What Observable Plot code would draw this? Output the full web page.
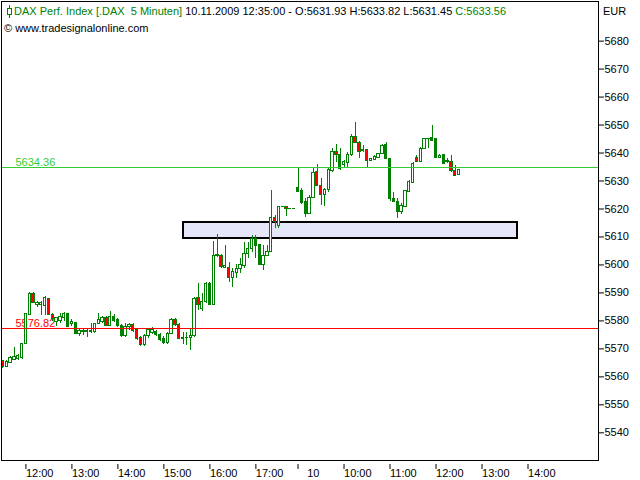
<!DOCTYPE html>
<html><head><meta charset="utf-8">
<script src="https://cdn.jsdelivr.net/npm/d3@7"></script>
<script src="https://cdn.jsdelivr.net/npm/@observablehq/plot@0.6"></script>
<style>html,body{margin:0;padding:0;background:#fff;overflow:hidden}</style>
</head><body><div id="chart"></div>
<script>
// 5-minute candles: day 9 (11:30-17:50) then day 10 (09:00-12:30), one per slot index
const open = [
5565.3,5563.3,5564.5,5565.7,5566.2,5566.4,5571.4,5581.7,5589.3,5585.5,
5585.3,5585.0,5587.5,5581.9,5579.2,5579.5,5580.7,5582.2,5578.4,5578.8,
5575.0,5575.5,5575.7,5575.5,5575.5,5578.4,5579.4,5580.6,5578.0,5581.1,
5579.9,5578.0,5574.2,5577.3,5578.2,5576.3,5573.5,5571.1,5574.2,5575.4,
5575.6,5574.7,5573.2,5571.8,5575.1,5579.9,5578.2,5573.2,5573.5,5573.7,
5574.2,5587.8,5584.0,5586.5,5592.9,5585.5,5602.8,5603.0,5598.7,5598.7,
5595.1,5596.8,5598.3,5599.4,5603.5,5605.4,5609.0,5606.8,5599.7,5603.0,
5604.4,5616.6,5613.7,5620.4,5620.4,5619.8,5619.8,
5627.3,5626.1,5622.3,5618.0,5623.5,5633.0,5628.0,5624.7,5626.4,5633.3,
5640.0,5638.8,5635.5,5636.1,5638.8,5645.4,5643.3,5640.7,5640.7,5636.9,
5637.1,5637.8,5639.2,5642.6,5637.6,5623.3,5622.1,5618.5,5620.4,5625.7,
5629.0,5637.8,5636.4,5641.1,5644.5,5645.0,5644.5,5637.8,5638.8,5636.9,
5636.6,5633.3,5631.93];
const high = [
5565.5,5565.5,5566.9,5570.3,5567.6,5571.7,5582.4,5589.9,5589.9,5586.7,
5586.5,5588.4,5587.7,5582.3,5581.0,5582.2,5582.6,5582.4,5580.0,5579.1,
5576.7,5576.7,5576.5,5578.8,5578.8,5582.2,5581.1,5581.3,5583.0,5581.8,
5580.4,5578.5,5578.7,5578.7,5578.7,5576.8,5574.0,5574.9,5577.1,5577.3,
5576.1,5575.1,5574.0,5575.6,5580.4,5580.4,5578.7,5575.6,5575.6,5576.8,
5587.9,5593.0,5589.3,5593.3,5593.3,5608.0,5610.4,5603.3,5606.6,5600.4,
5598.3,5599.7,5601.8,5607.5,5607.8,5610.2,5610.2,5607.1,5606.6,5606.6,
5626.4,5617.3,5620.4,5620.4,5620.4,5619.8,5619.8,
5634.2,5626.8,5623.3,5624.5,5634.0,5635.4,5630.4,5626.8,5634.0,5641.1,
5642.6,5641.1,5637.0,5640.0,5646.1,5650.7,5643.8,5642.3,5640.7,5637.8,
5638.8,5639.5,5642.8,5643.5,5637.8,5625.6,5623.3,5621.6,5626.4,5629.7,
5636.4,5638.8,5641.6,5645.0,5645.0,5649.5,5644.7,5639.0,5639.2,5637.6,
5638.8,5635.2,5633.82];
const low = [
5562.6,5562.9,5564.3,5565.5,5565.5,5566.0,5571.2,5581.5,5585.7,5584.5,
5581.7,5581.7,5581.7,5579.6,5577.6,5578.8,5579.3,5577.4,5577.6,5574.8,
5574.1,5574.5,5573.6,5575.3,5575.3,5578.4,5578.7,5577.8,5577.8,5579.0,
5577.3,5573.7,5573.7,5576.3,5575.6,5572.8,5570.6,5570.6,5573.5,5574.9,
5574.2,5572.3,5571.3,5571.3,5574.7,5577.8,5573.0,5571.3,5570.9,5568.9,
5573.8,5583.4,5583.0,5586.0,5585.0,5585.0,5602.4,5598.3,5598.3,5593.5,
5591.6,5594.7,5596.6,5598.3,5601.8,5604.2,5601.8,5599.4,5597.7,5602.5,
5604.2,5612.5,5612.5,5620.4,5616.8,5619.8,5619.8,
5625.4,5621.1,5616.6,5617.6,5623.3,5627.6,5620.9,5620.6,5625.7,5632.8,
5636.4,5633.3,5634.0,5634.0,5638.5,5643.0,5637.6,5640.0,5634.0,5636.6,
5636.9,5637.6,5639.0,5637.3,5622.3,5621.8,5616.4,5617.5,5620.2,5625.4,
5628.8,5636.1,5636.1,5640.9,5641.4,5643.8,5637.6,5637.6,5635.4,5635.9,
5632.8,5631.4,5631.45];
const close = [
5563.3,5564.9,5566.4,5566.9,5567.2,5571.4,5582.2,5589.3,5586.2,5586.2,
5586.0,5587.9,5581.9,5580.4,5580.7,5581.2,5582.2,5577.6,5579.3,5575.0,
5576.2,5576.2,5576.0,5576.2,5578.6,5579.8,5580.6,5578.0,5580.9,5579.7,
5578.0,5574.2,5577.5,5578.2,5576.1,5573.2,5571.1,5574.4,5576.3,5576.3,
5574.7,5572.8,5571.8,5575.1,5579.9,5578.2,5573.2,5573.7,5573.7,5574.2,
5587.5,5585.2,5586.5,5592.9,5585.5,5603.0,5603.2,5598.8,5599.4,5595.1,
5597.3,5598.3,5599.7,5603.5,5605.4,5609.0,5606.4,5599.7,5603.0,5604.4,
5616.6,5614.9,5620.4,5620.4,5619.5,5619.8,5619.8,
5625.7,5621.8,5618.0,5623.7,5632.6,5627.8,5624.7,5626.6,5633.5,5640.0,
5638.8,5634.0,5636.6,5638.8,5645.4,5643.3,5640.0,5640.2,5636.9,5637.6,
5638.3,5639.2,5642.3,5637.6,5623.3,5622.1,5618.5,5620.6,5626.1,5629.2,
5635.9,5636.4,5641.1,5644.7,5644.7,5644.0,5637.8,5638.5,5635.7,5636.4,
5633.3,5631.6,5633.56];

const tickIndex  = [6, 18, 30, 42, 54, 66, 77, 89, 101, 113, 125, 137];
const tickLabels = ["12:00","13:00","14:00","15:00","16:00","17:00","\u00a0\u00a0\u00a010","10:00","11:00","12:00","13:00","14:00"];
const yTicks = [5540,5550,5560,5570,5580,5590,5600,5610,5620,5630,5640,5650,5660,5670,5680];
const levelValues = [5634.36, 5576.82];
const levelColors = ["#33cc33", "#ff0000"];
const zoneX = [47.2, 134.25];
const zoneY = [5609.0, 5614.7];
const headerGreen1 = "DAX Perf. Index [.DAX\u00a0 5 Minuten]";
const headerBlack = " 10.11.2009 12:35:00 - O:5631.93 H:5633.82 L:5631.45 ";
const headerGreen2 = "C:5633.56";
const copyright = "\u00a9 www.tradesignalonline.com";
const currency = "EUR";

const candles = open.map((o, i) => ({i, open: o, high: high[i], low: low[i], close: close[i]}));
const levels = levelValues.map((v, k) => ({v, color: levelColors[k]}));
const tickLabelOf = new Map(tickIndex.map((t, k) => [t, tickLabels[k]]));
const hw = 0.3;
const green = "#008000";

const chart = Plot.plot({
  width: 640, height: 480,
  marginTop: 1, marginLeft: 1, marginRight: 42, marginBottom: 20,
  style: {fontFamily: "'Liberation Sans', Arial, sans-serif", fontSize: "11px", background: "#fff", color: "#000"},
  x: {type: "linear", domain: [-0.365, 155.39], axis: null},
  y: {domain: [5529.75, 5693.8], axis: null},
  marks: [
    Plot.rect([0], {x1: () => zoneX[0], x2: () => zoneX[1], y1: () => zoneY[0], y2: () => zoneY[1], fill: "#e6e6fa", stroke: "#000", strokeWidth: 2, shapeRendering: "crispEdges"}),
    Plot.text(levels, {y: "v", frameAnchor: "left", dx: 14, dy: -2, lineAnchor: "bottom", textAnchor: "start", text: d => d.v.toFixed(2), fill: d => d.color, fontSize: 11}),
    Plot.ruleX(candles, {x: "i", y1: "low", y2: "high", stroke: green, strokeWidth: 1, shapeRendering: "crispEdges"}),
    Plot.rect(candles, {x1: d => d.i - hw, x2: d => d.i + hw, y1: "open", y2: "close", fill: d => d.close < d.open ? "#ff0000" : "#ffffff", stroke: green, strokeWidth: 1, shapeRendering: "crispEdges"}),
    Plot.ruleY(candles.filter(d => d.open === d.close), {y: "close", x1: d => d.i - hw - 0.1, x2: d => d.i + hw + 0.1, stroke: green, shapeRendering: "crispEdges"}),
    Plot.ruleY(levels, {y: "v", stroke: d => d.color, strokeWidth: 1, shapeRendering: "crispEdges"}),
    Plot.frame({stroke: "#000", shapeRendering: "crispEdges"}),
    Plot.axisY(yTicks, {anchor: "right", tickSize: 5, tickPadding: 1, dy: 1, tickFormat: d => String(d), fontSize: 11, label: null}),
    Plot.axisX(tickIndex, {anchor: "bottom", tickSize: 5, tickPadding: 0, dy: 4, textAnchor: "start", dx: 0, tickFormat: d => tickLabelOf.get(d), fontSize: 11, label: null})
  ]
});
document.getElementById("chart").appendChild(chart);

const svg = d3.select(chart);
const g = svg.append("g")
  .attr("font-family", "'Liberation Sans', Arial, sans-serif")
  .attr("font-size", 11)
  .attr("text-anchor", "start");
g.append("line").attr("x1", 9.5).attr("x2", 9.5).attr("y1", 5).attr("y2", 18).attr("stroke", green);
g.append("rect").attr("x", 7.5).attr("y", 8.5).attr("width", 4).attr("height", 6).attr("fill", "#fff").attr("stroke", green);
const t = g.append("text").attr("x", 14).attr("y", 15).attr("text-anchor", "start").style("white-space", "pre");
t.append("tspan").attr("fill", green).text(headerGreen1);
t.append("tspan").attr("fill", "#000").text(headerBlack);
t.append("tspan").attr("fill", green).text(headerGreen2);
g.append("text").attr("x", 4).attr("y", 32).attr("text-anchor", "start").attr("fill", "#000").text(copyright);
g.append("text").attr("x", 603).attr("y", 15).attr("text-anchor", "start").attr("fill", "#000").text(currency);
</script></body></html>
